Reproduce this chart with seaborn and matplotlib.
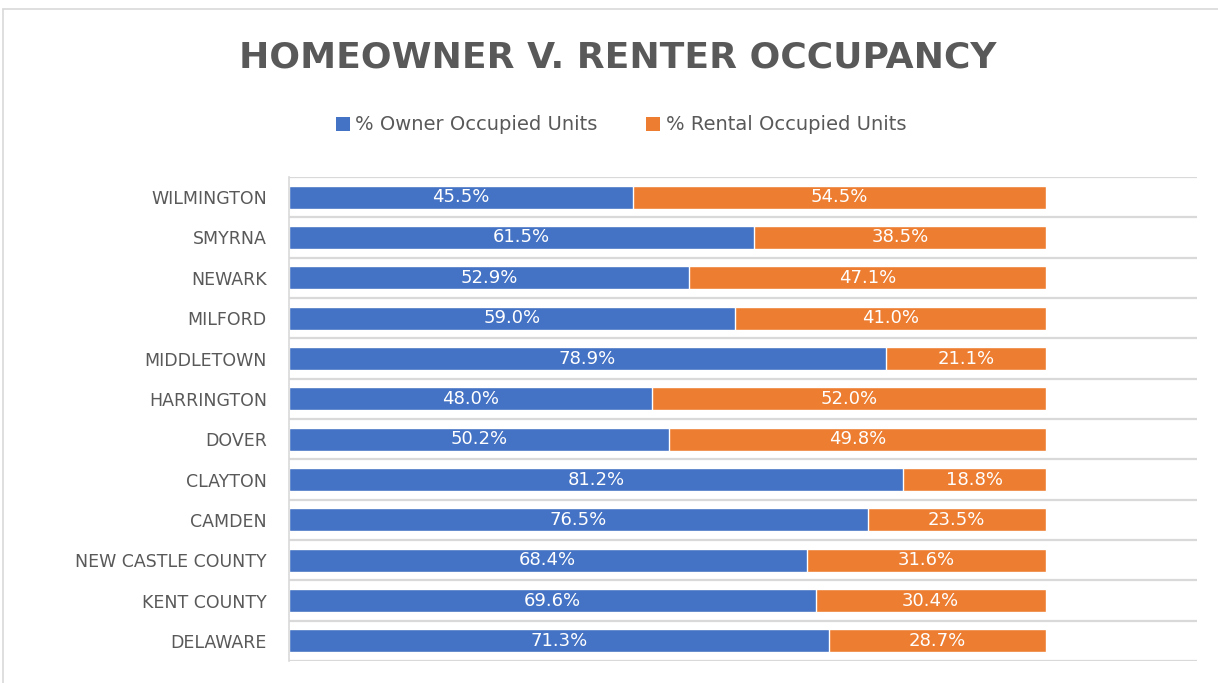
import matplotlib
matplotlib.use("Agg")
import matplotlib.pyplot as plt
import seaborn as sns
import pandas as pd
from matplotlib.lines import Line2D
from matplotlib.patches import Patch

categories = ["WILMINGTON", "SMYRNA", "NEWARK", "MILFORD", "MIDDLETOWN", "HARRINGTON",
              "DOVER", "CLAYTON", "CAMDEN", "NEW CASTLE COUNTY", "KENT COUNTY", "DELAWARE"]
owner = [45.5, 61.5, 52.9, 59.0, 78.9, 48.0, 50.2, 81.2, 76.5, 68.4, 69.6, 71.3]
rental = [54.5, 38.5, 47.1, 41.0, 21.1, 52.0, 49.8, 18.8, 23.5, 31.6, 30.4, 28.7]
series_names = ["% Owner Occupied Units", "% Rental Occupied Units"]
title = "HOMEOWNER V. RENTER OCCUPANCY"

BLUE = "#4472C4"
ORANGE = "#ED7D31"
GRAY = "#595959"
GRID = "#D9D9D9"

sns.set_theme(style="white")
plt.rcParams["font.family"] = ["DejaVu Sans"]

df = pd.DataFrame({"cat": categories, "owner": owner, "rental": rental})
df["total"] = df["owner"] + df["rental"]

fig = plt.figure(figsize=(12.18, 6.83), dpi=100)
fig.patch.set_facecolor("white")
# chart-area border (top and left visible)
fig.lines.append(Line2D([3/1218, 1.0], [1 - 9/683, 1 - 9/683], transform=fig.transFigure,
                        color=GRID, linewidth=1.2))
fig.lines.append(Line2D([3/1218, 3/1218], [0, 1 - 9/683], transform=fig.transFigure,
                        color=GRID, linewidth=1.2))

ax = fig.add_axes([289/1218, 1 - 661/683, (1197 - 289)/1218, (661 - 177)/683])

sns.barplot(data=df, y="cat", x="total", color=ORANGE, orient="h", width=0.57,
            saturation=1, ax=ax, order=categories)
sns.barplot(data=df, y="cat", x="owner", color=BLUE, orient="h", width=0.57,
            saturation=1, ax=ax, order=categories)

ax.set_xlim(0, 120)
ax.set_ylim(len(categories) - 0.5, -0.5)
ax.set_xlabel("")
ax.set_ylabel("")
ax.set_xticks([])

for sp in ["top", "right", "bottom"]:
    ax.spines[sp].set_visible(False)
ax.spines["left"].set_color(GRID)
ax.spines["left"].set_linewidth(1.2)

for i in range(len(categories) + 1):
    ax.axhline(i - 0.5, color=GRID, linewidth=1.6, zorder=0)

ax.tick_params(axis="y", length=0, pad=16, labelsize=12.5, labelcolor=GRAY)

for i, (o, r) in enumerate(zip(owner, rental)):
    ax.text(o / 2, i, f"{o:.1f}%", ha="center", va="center", color="white", fontsize=13)
    ax.text(o + r / 2, i, f"{r:.1f}%", ha="center", va="center", color="white", fontsize=13)

fig.text(0.507, 1 - 57/683, title, ha="center", va="center", fontsize=26,
         fontweight="bold", color=GRAY)

handles = [Patch(facecolor=BLUE, edgecolor="none"), Patch(facecolor=ORANGE, edgecolor="none")]
fig.legend(handles, series_names, loc="center", bbox_to_anchor=(0.51, 1 - 125/683),
           ncol=2, frameon=False, fontsize=14, labelcolor=GRAY, handlelength=0.7,
           handleheight=0.7, handletextpad=0.3, columnspacing=2.5)

fig.savefig("out.png", dpi=100, facecolor="white")
